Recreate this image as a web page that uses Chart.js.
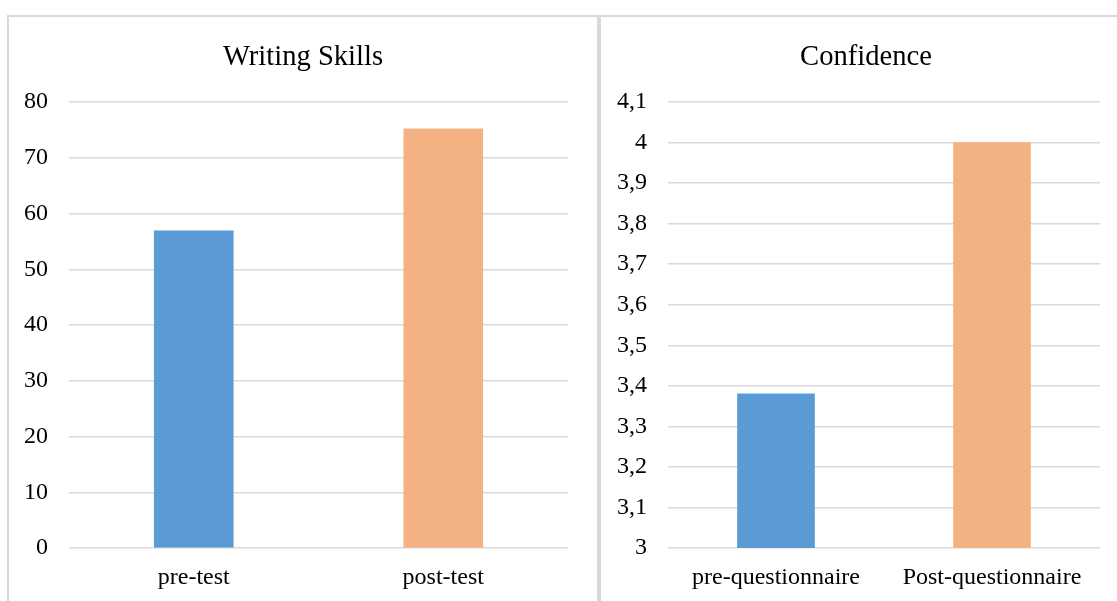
<!DOCTYPE html>
<html>
<head>
<meta charset="utf-8">
<script src="https://cdn.jsdelivr.net/npm/chart.js@4.4.1/dist/chart.umd.min.js"></script>
<style>
  html, body { margin: 0; padding: 0; background: #fff; overflow: hidden; width: 1117px; height: 601px; }
  .panel { position: absolute; box-sizing: border-box; border: 2px solid #d9d9d9; background: #fff; }
  canvas { position: absolute; }
  .title { position: absolute; top: 39px; height: 34px; line-height: 34px; width: 400px; text-align: center;
           font-family: 'Liberation Serif', 'Times New Roman', serif; font-size: 28.6px; color: #000; white-space: nowrap; }
</style>
</head>
<body>
<div class="panel" style="left:7px; top:15px; width:592px; height:700px;"></div>
<div class="panel" style="left:599px; top:15px; width:600px; height:700px;"></div>
<canvas id="c1" style="left:9px; top:17px; width:588px; height:584px;" width="588" height="584"></canvas>
<canvas id="c2" style="left:601px; top:17px; width:531px; height:584px;" width="531" height="584"></canvas>
<div id="t1" class="title" style="left:103px;"></div>
<div id="t2" class="title" style="left:666px;"></div>
<script>
const writingTitle = "Writing Skills";
const writingCategories = ["pre-test", "post-test"];
const writingValues = [56.9, 75.2];
const writingColors = ["#5B9BD5", "#F4B183"];
const writingMin = 0, writingMax = 80, writingStep = 10;

const confTitle = "Confidence";
const confCategories = ["pre-questionnaire", "Post-questionnaire"];
const confValues = [3.38, 4.0];
const confColors = ["#5B9BD5", "#F4B183"];
const confMin = 3, confMax = 4.1, confStep = 0.1;

const FONT = "'Liberation Serif', 'Times New Roman', serif";

document.getElementById('t1').textContent = writingTitle;
document.getElementById('t2').textContent = confTitle;

function makeChart(id, cats, vals, colors, ymin, ymax, ystep, padRight, yWidth, barW, fmt) {
  return new Chart(document.getElementById(id), {
    type: 'bar',
    data: {
      labels: cats,
      datasets: [{ data: vals, backgroundColor: colors, borderWidth: 0, barThickness: barW }]
    },
    options: {
      responsive: false,
      animation: false,
      layout: { padding: { top: 85, right: padRight, bottom: 0, left: 0 } },
      plugins: {
        legend: { display: false },
        tooltip: { enabled: false },
        title: { display: false }
      },
      scales: {
        x: {
          grid: { display: false, drawTicks: false },
          border: { display: false },
          ticks: { color: '#000', font: { family: FONT, size: 24, lineHeight: 1.2 }, padding: 15, maxRotation: 0, autoSkip: false },
          afterFit: s => { s.height = 53; }
        },
        y: {
          min: ymin, max: ymax,
          grid: { color: '#d9d9d9', lineWidth: 1.5, drawTicks: false },
          border: { display: false },
          ticks: { stepSize: ystep, color: '#000', font: { family: FONT, size: 24, lineHeight: 1.2 }, padding: 21, callback: fmt },
          afterFit: s => { s.width = yWidth; }
        }
      }
    }
  });
}

makeChart('c1', writingCategories, writingValues, writingColors,
  writingMin, writingMax, writingStep, 29, 60, 79, v => String(v));
makeChart('c2', confCategories, confValues, confColors,
  confMin, confMax, confStep, 32, 67, 77, v => String(Number(Number(v).toFixed(1))).replace('.', ','));
</script>
</body>
</html>
